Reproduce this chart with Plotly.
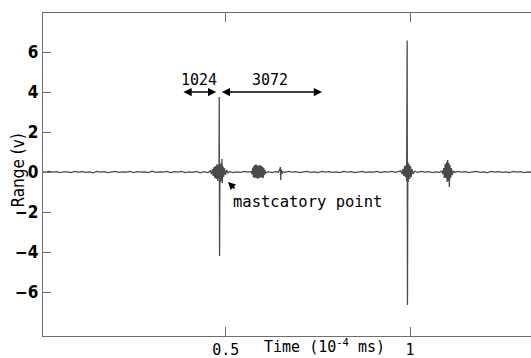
import plotly.graph_objects as go

# ---- data ----
quiet_1 = [(0.00,0.02),(0.01,-0.02),(0.02,0.03),(0.03,-0.01),(0.04,0.02),(0.05,-0.03),(0.06,0.01),(0.07,0.01),
           (0.08,-0.03),(0.09,0.03),(0.10,-0.01),(0.11,0.02),(0.12,-0.02),(0.13,0.01),(0.14,-0.04),(0.15,0.03),
           (0.16,-0.01),(0.17,0.02),(0.18,-0.03),(0.19,0.01),(0.20,0.03),(0.21,-0.02),(0.22,0.01),(0.23,-0.01),
           (0.24,0.03),(0.25,-0.03),(0.26,0.02),(0.27,-0.01),(0.28,0.01),(0.29,-0.03),(0.30,0.04),(0.31,-0.02),
           (0.32,0.01),(0.33,-0.01),(0.34,0.03),(0.35,-0.03),(0.36,0.02),(0.37,-0.01),(0.38,0.03),(0.39,-0.03),
           (0.40,0.01),(0.41,-0.02),(0.42,0.03),(0.43,-0.04),(0.44,0.02),(0.452,-0.03)]
burst_1 = [(0.458,0.06),(0.461,-0.1),(0.464,0.15),(0.466,-0.2),(0.468,0.25),(0.470,-0.3),(0.472,0.3),
           (0.474,-0.35),(0.476,0.4),(0.478,-0.45),(0.480,0.35),(0.4815,-0.3),(0.4822,3.75),(0.4830,-4.2),
           (0.4840,0.45),(0.4855,-0.5),(0.487,0.4),(0.4885,-0.45),(0.4895,0.65),(0.4905,-0.55),(0.492,0.3),
           (0.494,-0.25),(0.496,0.2),(0.499,-0.15),(0.502,0.1),(0.506,-0.05)]
quiet_2 = [(0.51,0.02),(0.52,-0.03),(0.53,0.01),(0.54,-0.02),(0.55,0.03),(0.56,-0.01),(0.568,0.03)]
burst_2 = [(0.5715,-0.1),(0.573,0.2),(0.5745,-0.25),(0.576,0.3),(0.5775,-0.3),(0.579,0.35),(0.5805,-0.28),
           (0.582,0.38),(0.5835,-0.3),(0.585,0.33),(0.5865,-0.35),(0.588,0.3),(0.5895,-0.28),(0.591,0.35),
           (0.5925,-0.3),(0.594,0.32),(0.5955,-0.25),(0.597,0.3),(0.5985,-0.28),(0.600,0.25),(0.6015,-0.3),
           (0.603,0.2),(0.6045,-0.15),(0.606,0.1),(0.608,-0.05)]
quiet_3 = [(0.615,0.02),(0.625,-0.03),(0.635,0.02),(0.642,-0.01)]
bump_1 = [(0.646,0.1),(0.648,0.25),(0.649,-0.4),(0.650,0.15),(0.652,-0.08),(0.655,0.02)]
quiet_4 = [(0.66,-0.02),(0.67,0.03),(0.68,-0.01),(0.69,0.02),(0.70,-0.03),(0.71,0.01),(0.72,0.03),(0.73,-0.02),
           (0.74,0.01),(0.75,-0.03),(0.76,0.03),(0.77,-0.01),(0.78,0.02),(0.79,-0.02),(0.80,0.01),(0.81,-0.03),
           (0.82,0.03),(0.83,-0.01),(0.84,0.02),(0.85,-0.03),(0.86,0.01),(0.87,0.03),(0.88,-0.02),(0.89,0.01),
           (0.90,-0.01),(0.91,0.03),(0.92,-0.03),(0.93,0.02),(0.94,-0.01),(0.95,0.03),(0.96,-0.02),(0.97,0.03)]
burst_3 = [(0.975,0.06),(0.978,-0.1),(0.981,0.15),(0.983,-0.2),(0.985,0.3),(0.987,-0.25),(0.989,0.35),
           (0.9905,-0.45),(0.9920,6.57),(0.9928,-6.65),(0.9938,0.5),(0.995,-0.5),(0.997,0.4),(0.999,-0.35),
           (1.001,0.3),(1.003,-0.25),(1.005,0.15),(1.008,-0.1),(1.012,0.04)]
quiet_5 = [(1.02,-0.02),(1.03,0.03),(1.04,-0.01),(1.05,0.02),(1.06,-0.03),(1.07,0.01),(1.08,-0.02),(1.086,0.04)]
burst_4 = [(1.089,-0.1),(1.091,0.2),(1.093,-0.3),(1.095,0.4),(1.097,-0.3),(1.099,0.5),(1.1005,-0.5),
           (1.102,0.6),(1.1035,-0.45),(1.105,0.45),(1.1065,-0.75),(1.108,0.35),(1.110,-0.3),(1.112,0.2),
           (1.114,-0.15),(1.117,0.06)]
quiet_6 = [(1.12,-0.02),(1.13,0.03),(1.14,-0.01),(1.15,0.02),(1.16,-0.03),(1.17,0.01),(1.18,0.03),(1.19,-0.02),
           (1.20,0.01),(1.21,-0.03),(1.22,0.03),(1.23,-0.01),(1.24,0.02),(1.25,-0.02),(1.26,0.01),(1.27,-0.03),
           (1.28,0.03),(1.29,-0.01),(1.30,0.02),(1.31,-0.03),(1.32,0.01),(1.33,-0.02)]

x_tickvals = [0.5, 1]
x_ticktext = ["0.5", "1"]
y_tickvals = [-6, -4, -2, 0, 2, 4, 6]
y_ticktext = ["\u22126", "\u22124", "\u22122", "0", "2", "4", "6"]

segments = [quiet_1, burst_1, quiet_2, burst_2, quiet_3, bump_1, quiet_4, burst_3, quiet_5, burst_4, quiet_6]
t = [p[0] for s in segments for p in s]
v = [p[1] for s in segments for p in s]

mono = "DejaVu Sans Mono"
narrow = "DejaVu Sans Condensed, Liberation Sans Narrow, Arial Narrow, Liberation Sans"
frame = "#6e6e6e"

fig = go.Figure()
fig.add_trace(go.Scatter(x=t, y=v, mode="lines", line=dict(color="#4a4a4a", width=1.3),
                         showlegend=False, hoverinfo="skip"))

ann = []
for x0, x1 in [(0.381, 0.474), (0.485, 0.761)]:
    ann.append(dict(x=x1, y=4.0, ax=x0, ay=4.0, xref="x", yref="y", axref="x", ayref="y",
                    text="", showarrow=True, arrowside="end+start", arrowhead=2, arrowsize=1.1,
                    arrowwidth=1.5, arrowcolor="black", standoff=0, startstandoff=0))
ann.append(dict(x=0.428, y=4.6, xref="x", yref="y", text="1024", showarrow=False,
                font=dict(family=mono, size=15, color="black")))
ann.append(dict(x=0.62, y=4.6, xref="x", yref="y", text="3072", showarrow=False,
                font=dict(family=mono, size=15, color="black")))
ann.append(dict(x=0.513, y=-1.5, xref="x", yref="y", text="mastcatory point", showarrow=False,
                xanchor="left", font=dict(family=mono, size=15.5, color="black")))
ann.append(dict(x=0.506, y=-0.5, ax=0.528, ay=-0.9, xref="x", yref="y", axref="x", ayref="y",
                text="", showarrow=True, arrowhead=2, arrowsize=1, arrowwidth=1.5,
                arrowcolor="black", standoff=0))
ann.append(dict(x=0, y=0.5, xref="paper", yref="paper", xshift=-26, yshift=4,
                xanchor="center", yanchor="middle",
                text="Range (v)", textangle=-90, showarrow=False,
                font=dict(family=narrow, size=17, color="black")))
ann.append(dict(x=0.5, y=0, xref="x", yref="paper", text="Time (10<sup>-4</sup> ms)",
                showarrow=False, xanchor="left", yanchor="bottom", xshift=36, yshift=-22,
                font=dict(family=mono, size=15, color="black")))

fig.update_layout(
    width=531, height=358,
    margin=dict(l=43, r=0, t=13, b=22),
    paper_bgcolor="white", plot_bgcolor="white",
    annotations=ann,
    xaxis=dict(range=[0.004, 1.328], tickvals=x_tickvals, ticktext=x_ticktext,
               ticks="inside", ticklen=9, tickcolor=frame, showline=True, linecolor=frame,
               linewidth=1.3, mirror="ticks", showgrid=False, zeroline=False,
               tickfont=dict(family=mono, size=15, color="black")),
    yaxis=dict(range=[-8.2, 7.95], tickvals=y_tickvals, ticktext=y_ticktext,
               ticks="inside", ticklen=8, tickcolor=frame, showline=True, linecolor=frame,
               linewidth=1.3, mirror=False, showgrid=False, zeroline=False,
               tickfont=dict(family=narrow, size=17, color="black", weight="bold")),
)
fig.write_html("out.html")
